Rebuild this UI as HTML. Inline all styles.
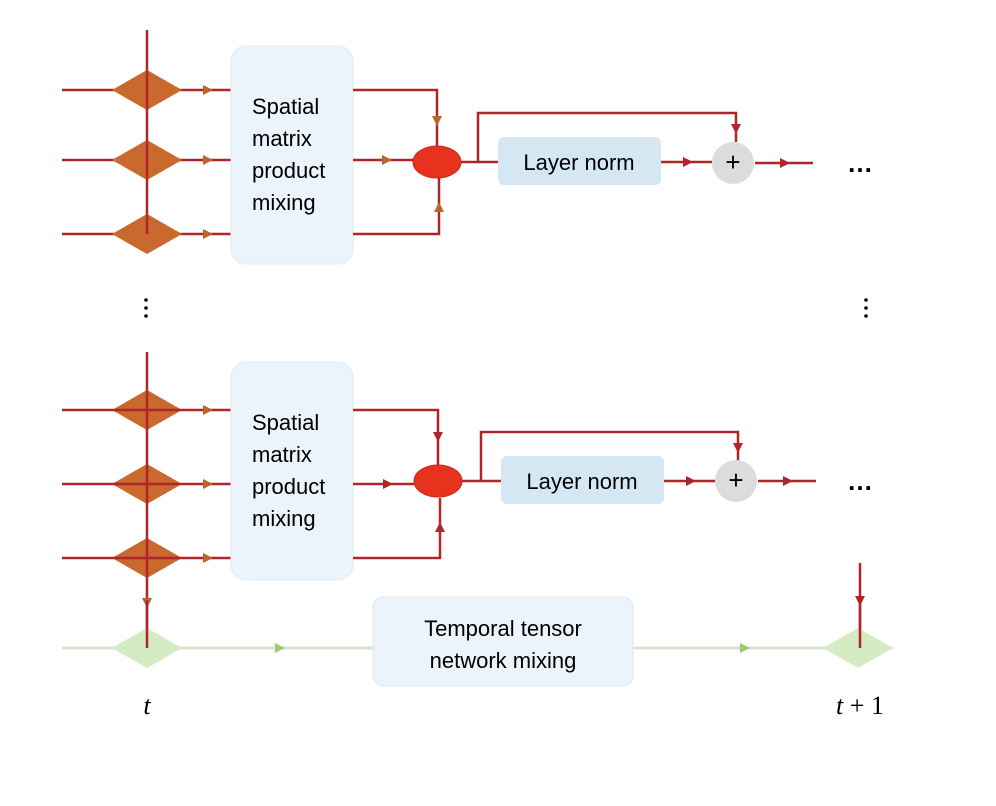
<!DOCTYPE html>
<html><head><meta charset="utf-8"><style>
html,body{margin:0;padding:0;background:#fff;}
svg{display:block;}
text{font-family:"Liberation Sans",sans-serif;}
</style></head><body>
<svg width="996" height="806" viewBox="0 0 996 806" xmlns="http://www.w3.org/2000/svg">
<g stroke="#b0252a" stroke-width="2.5" fill="none">
<line x1="62" y1="90" x2="231" y2="90"/><line x1="62" y1="160" x2="231" y2="160"/><line x1="62" y1="234" x2="231" y2="234"/>
</g>
<g fill="#c9692d">
<polygon points="112,90 147,70 182,90 147,110"/><polygon points="112,160 147,140 182,160 147,180"/><polygon points="112,234 147,214 182,234 147,254"/>
<polygon points="112,410 147,390 182,410 147,430"/><polygon points="112,484 147,464 182,484 147,504"/><polygon points="112,558 147,538 182,558 147,578"/>
</g>
<g stroke="#b0252a" stroke-width="2.5" fill="none">
<line x1="147" y1="30" x2="147" y2="234"/>
<line x1="62" y1="410" x2="231" y2="410"/><line x1="62" y1="484" x2="231" y2="484"/><line x1="62" y1="558" x2="231" y2="558"/>
<line x1="147" y1="352" x2="147" y2="648"/>
</g>
<g stroke="none">
<path d="M203,85 L213,90 L203,95z M203,155 L213,160 L203,165z M203,229 L213,234 L203,239z M203,405 L213,410 L203,415z M203,479 L213,484 L203,489z M203,553 L213,558 L203,563z" fill="#b8652e"/>
<path d="M142,598 L147,608 L152,598z" fill="#b8652e"/>
</g>
<rect x="231" y="46" width="122" height="218" rx="15" fill="#ebf3fb" stroke="#e3ecf5"/>
<rect x="231" y="362" width="122" height="218" rx="15" fill="#ebf3fb" stroke="#e3ecf5"/>
<g font-size="22" fill="#000">
<text x="252" y="114">Spatial</text><text x="252" y="146">matrix</text><text x="252" y="178">product</text><text x="252" y="210">mixing</text>
<text x="252" y="430">Spatial</text><text x="252" y="462">matrix</text><text x="252" y="494">product</text><text x="252" y="526">mixing</text>
</g>
<g stroke="#b0252a" stroke-width="2.5" fill="none">
<polyline points="353,90 437,90 437,146"/>
<line x1="353" y1="160" x2="413" y2="160"/>
<polyline points="353,234 439,234 439,178"/>
<line x1="461" y1="162" x2="498" y2="162"/>
<polyline points="478,162 478,113 736,113 736,142"/>
<line x1="661" y1="162" x2="712" y2="162"/>
<line x1="755" y1="163" x2="813" y2="163"/>
<polyline points="353,410 438,410 438,466"/>
<line x1="353" y1="484" x2="414" y2="484"/>
<polyline points="353,558 440,558 440,498"/>
<line x1="462" y1="481" x2="501" y2="481"/>
<polyline points="481,481 481,432 738,432 738,461"/>
<line x1="664" y1="481" x2="715" y2="481"/>
<line x1="758" y1="481" x2="816" y2="481"/>
<line x1="860" y1="563" x2="860" y2="642"/>
</g>
<g fill="#b0252a">
<path d="M432,116 L437,126 L442,116z" fill="#b8652e"/><path d="M382,155 L392,160 L382,165z" fill="#b8652e"/><path d="M434,212 L439,202 L444,212z" fill="#b8652e"/>
<path d="M731,124 L736,134 L741,124z"/><path d="M683,157 L693,162 L683,167z"/><path d="M780,158 L790,163 L780,168z"/>
<path d="M433,432 L438,442 L443,432z"/><path d="M383,479 L393,484 L383,489z"/><path d="M435,532 L440,522 L445,532z"/>
<path d="M733,443 L738,453 L743,443z"/><path d="M686,476 L696,481 L686,486z"/><path d="M783,476 L793,481 L783,486z"/>
<path d="M855,596 L860,606 L865,596z"/>
</g>
<ellipse cx="437" cy="162" rx="24" ry="16" fill="#e8321e" stroke="#c72a1a"/>
<ellipse cx="438" cy="481" rx="24" ry="16" fill="#e8321e" stroke="#c72a1a"/>
<rect x="498" y="137" width="163" height="48" rx="6" fill="#d5e7f3"/>
<rect x="501" y="456" width="163" height="48" rx="6" fill="#d5e7f3"/>
<text x="579" y="170" font-size="22" text-anchor="middle">Layer norm</text>
<text x="582" y="489" font-size="22" text-anchor="middle">Layer norm</text>
<circle cx="733" cy="163" r="21" fill="#dcdcdc"/>
<circle cx="736" cy="481" r="21" fill="#dcdcdc"/>
<text x="733" y="171" font-size="26" text-anchor="middle">+</text>
<text x="736" y="489" font-size="26" text-anchor="middle">+</text>
<text x="860" y="172" font-size="26" font-weight="bold" text-anchor="middle">…</text>
<text x="860" y="490" font-size="26" font-weight="bold" text-anchor="middle">…</text>
<g fill="#000"><circle cx="146" cy="300" r="1.8"/><circle cx="146" cy="308" r="1.8"/><circle cx="146" cy="316" r="1.8"/>
<circle cx="866" cy="300" r="1.8"/><circle cx="866" cy="308" r="1.8"/><circle cx="866" cy="316" r="1.8"/></g>
<line x1="62" y1="648" x2="893" y2="648" stroke="#d8e3cf" stroke-width="3"/>
<path d="M275,643 L285,648 L275,653z M740,643 L750,648 L740,653z" fill="#9ccc70"/>
<polygon points="112,648 147,628 182,648 147,668" fill="#d5ebc4"/>
<polygon points="823,648 858,628 893,648 858,668" fill="#d5ebc4"/>
<line x1="147" y1="600" x2="147" y2="648" stroke="#b0252a" stroke-width="2.5"/>
<line x1="860" y1="600" x2="860" y2="648" stroke="#b0252a" stroke-width="2.5"/>
<rect x="373" y="597" width="260" height="89" rx="10" fill="#ebf3fb" stroke="#dfe8f2"/>
<text x="503" y="636" font-size="22" text-anchor="middle">Temporal tensor</text>
<text x="503" y="668" font-size="22" text-anchor="middle">network mixing</text>
<text x="147" y="714" font-size="26" font-style="italic" text-anchor="middle" style="font-family:'Liberation Serif',serif">t</text>
<text x="860" y="714" font-size="26" text-anchor="middle" style="font-family:'Liberation Serif',serif"><tspan font-style="italic">t</tspan> + 1</text>
</svg>
</body></html>
